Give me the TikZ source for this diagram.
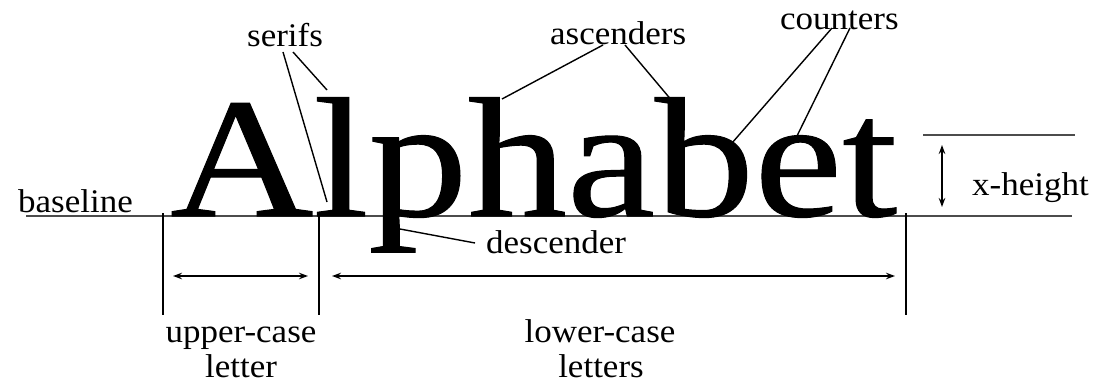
\documentclass[tikz,border=0pt]{standalone}
\usepackage{fontspec}
\setmainfont{Liberation Serif}
\newfontfamily\bigfont[FakeStretch=1.16,FakeBold=0.6]{Liberation Serif}
\newfontfamily\lblfont[FakeStretch=1.06]{Liberation Serif}
\usetikzlibrary{arrows.meta}
\begin{document}
\begin{tikzpicture}[x=1pt,y=-1pt,
  lbl/.style={font=\lblfont\fontsize{33}{36}\selectfont, inner sep=0pt, anchor=base west},
  lblc/.style={font=\lblfont\fontsize{33}{36}\selectfont, inner sep=0pt, anchor=base},
  lead/.style={line width=1.4pt},
  guide/.style={line width=1.7pt, draw=black!70},
  tick/.style={line width=1.6pt},
  dimarrow/.style={line width=1.6pt, {Stealth[length=9pt,width=6.5pt]}-{Stealth[length=9pt,width=6.5pt]}}]
\fill[white] (0,0) rectangle (1105,385);
\useasboundingbox (0,0) rectangle (1105,385);
% guide lines
\coordinate (bl0) at (26,216);
\coordinate (bl1) at (1072,216);
\coordinate (xh0) at (923,135);
\coordinate (xh1) at (1075,135);
\draw[guide] (bl0) -- (bl1);
\draw[guide] (xh0) -- (xh1);
% the word
\node[inner sep=0pt, anchor=base west, text depth=0pt, font=\bigfont\fontsize{171}{171}\selectfont] (word) at (170,216) {Alphabet};
% labels
\node[lbl] (serifs) at (247,47) {serifs};
\node[lbl] (asc) at (550,45) {ascenders};
\node[lbl] (cnt) at (780,30) {counters};
\node[lbl] (base) at (18,212) {baseline};
\node[lbl] (xhl) at (972,195) {x-height};
\node[lbl] (desc) at (486,253) {descender};
\node[lblc] (uc1) at (241,342) {upper-case};
\node[lblc] (uc2) at (241,377) {letter};
\node[lblc] (lc1) at (600,342) {lower-case};
\node[lblc] (lc2) at (601,377) {letters};
% leader end points
\coordinate (s0) at (283,52);
\coordinate (s1) at (293,52);
\coordinate (serA) at (327,202);
\coordinate (serL) at (327,90);
\coordinate (a0) at (603,45);
\coordinate (a1) at (625,45);
\coordinate (ascH) at (502,99);
\coordinate (ascB) at (673,102);
\coordinate (c0) at (832,28);
\coordinate (c1) at (850,28);
\coordinate (cntB) at (732,143);
\coordinate (cntE) at (796,138);
\coordinate (d0) at (475,243);
\coordinate (descP) at (400,229);
\draw[lead] (s0) -- (serA);
\draw[lead] (s1) -- (serL);
\draw[lead] (a0) -- (ascH);
\draw[lead] (a1) -- (ascB);
\draw[lead] (c0) -- (cntB);
\draw[lead] (c1) -- (cntE);
\draw[lead] (d0) -- (descP);
% ticks
\coordinate (t1a) at (163,213); \coordinate (t1b) at (163,315);
\coordinate (t2a) at (319,212); \coordinate (t2b) at (319,315);
\coordinate (t3a) at (906,213); \coordinate (t3b) at (906,315);
\draw[tick] (t1a) -- (t1b);
\draw[tick] (t2a) -- (t2b);
\draw[tick] (t3a) -- (t3b);
% dimension arrows
\coordinate (u0) at (173,276); \coordinate (u1) at (308,276);
\coordinate (l0) at (332,276); \coordinate (l1) at (895,276);
\coordinate (x0) at (942,145); \coordinate (x1) at (942,207);
\draw[dimarrow] (u0) -- (u1);
\draw[dimarrow] (l0) -- (l1);
\draw[dimarrow] (x0) -- (x1);
\end{tikzpicture}
\end{document}
